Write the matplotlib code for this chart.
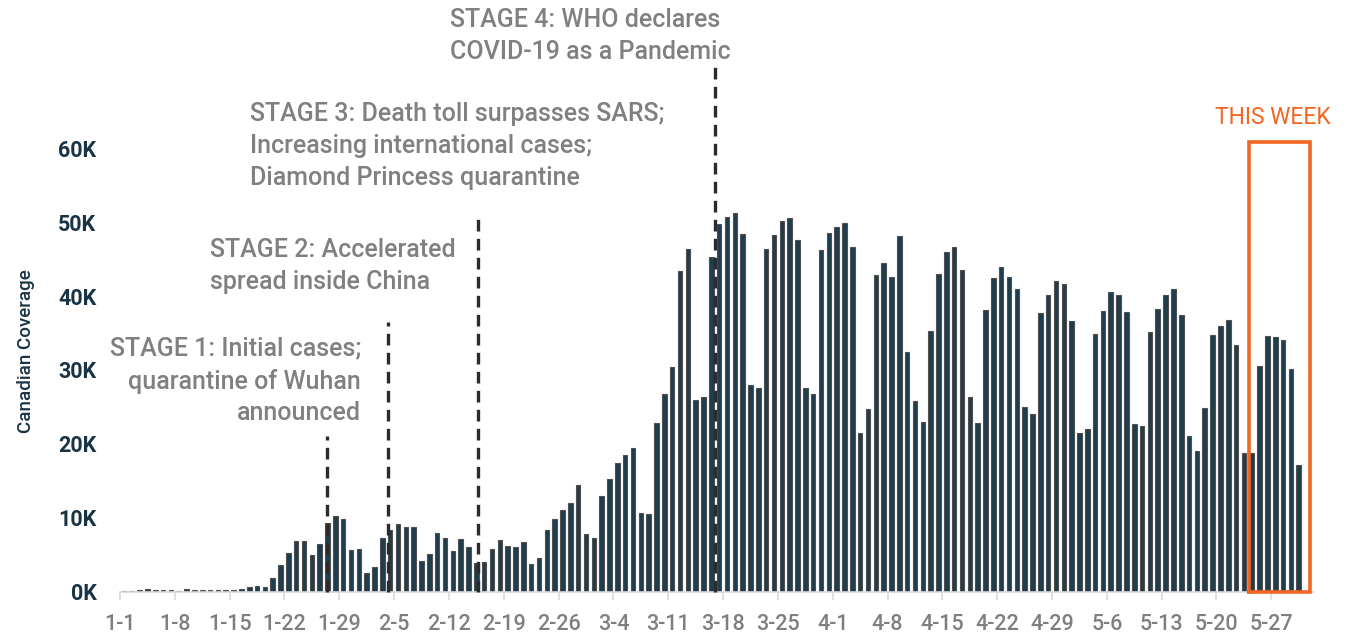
import matplotlib
matplotlib.use("Agg")
import matplotlib.pyplot as plt
import numpy as np
import datetime as dt

# daily coverage, 2020-01-01 .. 2020-05-30 (thousands)
start_date = dt.date(2020, 1, 1)
coverage_k = [
    0.1, 0.1, 0.2, 0.3, 0.2, 0.2, 0.2, 0.1, 0.4, 0.2, 0.2, 0.2, 0.2, 0.2, 0.2, 0.3,
    0.6, 0.8, 0.6, 1.9, 3.6, 5.3, 6.9, 6.9, 4.9, 6.5, 9.3, 10.2, 9.9, 5.6,
    5.8, 2.5, 3.4, 7.3, 8.3, 9.2, 8.8, 8.8, 4.1, 5.1, 7.9, 7.3, 5.5, 7.1, 6.0,
    3.9, 4.0, 5.8, 7.0, 6.2, 6.1, 6.7, 3.8, 4.5, 8.4, 9.8, 11.1, 12.0, 14.5,
    7.8, 7.2, 13.0, 15.3, 17.4, 18.5, 19.4, 10.6, 10.5, 22.8, 26.7, 30.4,
    43.4, 46.4, 25.9, 26.3, 45.3, 49.7, 50.7, 51.2, 48.4, 27.9, 27.5,
    46.4, 48.2, 50.2, 50.6, 47.6, 27.6, 26.8, 46.2, 48.6, 49.3, 49.9, 46.6,
    21.5, 24.7, 42.8, 44.5, 42.6, 48.1, 32.4, 25.8, 23.0, 35.3, 43.0,
    46.0, 46.7, 43.5, 26.4, 22.8, 38.1, 42.5, 43.9, 42.6, 40.9, 25.0, 24.0,
    37.7, 40.2, 42.0, 41.7, 36.6, 21.5, 22.0, 34.9, 38.0, 40.5, 40.1, 37.8,
    22.7, 22.4, 35.2, 38.2, 40.1, 41.0, 37.5, 21.1, 19.1, 24.8, 34.7, 36.0,
    36.7, 33.4, 18.7, 18.7, 30.6, 34.6, 34.5, 34.1, 30.1, 17.1,
]

# stage markers: day position and top of the dashed line (K)
stage_days = [25.9, 33.7, 45.25, 75.5]
stage_tops = [21.0, 36.5, 51.4, 71.0]
stage_texts = [
    "STAGE 1: Initial cases;\nquarantine of Wuhan\nannounced",
    "STAGE 2: Accelerated\nspread inside China",
    "STAGE 3: Death toll surpasses SARS;\nIncreasing international cases;\nDiamond Princess quarantine",
    "STAGE 4: WHO declares\nCOVID-19 as a Pandemic",
]
this_week_start = 143.65
this_week_end = 151.5
this_week_top = 60.9

n = len(coverage_k)
dates = [start_date + dt.timedelta(days=i) for i in range(n)]
x = np.arange(n)
tick_idx = list(range(0, n, 7))
tick_labels = [f"{dates[i].month}-{dates[i].day}" for i in tick_idx]

plt.rcParams['font.family'] = ['Roboto', 'DejaVu Sans']

fig = plt.figure(figsize=(13.49, 6.39), dpi=100)
ax = fig.add_axes([120 / 1349, 1 - 591.7 / 639, 1194.4 / 1349, 480.4 / 639])

ax.bar(x, coverage_k, width=0.58, color='#1e3d4d', edgecolor='#505050', linewidth=0.8, zorder=2)

ax.set_xlim(-0.5, 152)
ax.set_ylim(0, 65)

ax.set_xticks([i - 0.5 for i in tick_idx])
ax.set_xticklabels(tick_labels, fontsize=15.5, color='#7f7f7f', fontweight='medium')
ax.set_yticks(range(0, 61, 10))
ax.set_yticklabels([f"{v}K" for v in range(0, 61, 10)], fontsize=15.5, color='#1b3445',
                   fontweight='bold')
ax.tick_params(axis='x', length=6, width=1.2, color='#d9d9d9', pad=10)
ax.tick_params(axis='y', length=0, pad=17)

for s in ['top', 'right', 'left']:
    ax.spines[s].set_visible(False)
ax.spines['bottom'].set_color('#d9d9d9')
ax.spines['bottom'].set_linewidth(1.2)

ax.set_ylabel("Canadian Coverage", fontsize=13.5, color='#1b3445', labelpad=17,
              fontweight='medium')

# stage lines and labels
for day, top in zip(stage_days, stage_tops):
    ax.plot([day, day], [0, top], color='#2b2b2b', linewidth=2.4,
            linestyle=(0, (3.5, 2.2)), clip_on=False, zorder=3)

txt = dict(fontsize=18, color='#808080', linespacing=1.4, va='center', fontweight='medium')
fig.text(361 / 1349, 1 - 381 / 639, stage_texts[0], ha='right', multialignment='right', **txt)
fig.text(210 / 1349, 1 - 266 / 639, stage_texts[1], ha='left', **txt)
fig.text(250 / 1349, 1 - 146 / 639, stage_texts[2], ha='left', **txt)
fig.text(450 / 1349, 1 - 36 / 639, stage_texts[3], ha='left', **txt)

# this week box
orange = '#f26522'
ax.plot([this_week_start, this_week_start, this_week_end, this_week_end, this_week_start],
        [0, this_week_top, this_week_top, 0, 0], color=orange, linewidth=2.6,
        clip_on=False, zorder=4, solid_joinstyle='miter')
fig.text(1273 / 1349, 1 - 118 / 639, "THIS WEEK", ha='center', va='center',
         fontsize=16.5, color=orange)

fig.savefig("out.png", dpi=100)
